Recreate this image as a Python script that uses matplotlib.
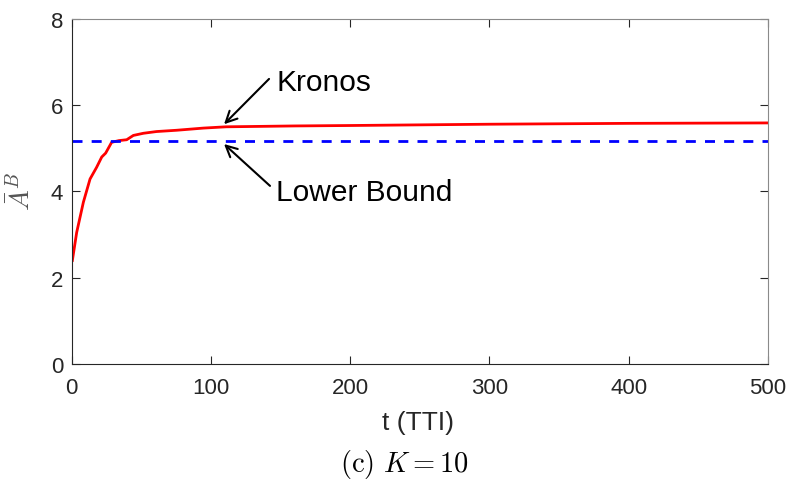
import matplotlib
matplotlib.use("Agg")
import matplotlib.pyplot as plt
import numpy as np

# Data
t_kronos = [0.6, 3.7, 8.5, 13.3, 18, 21.7, 24.5, 28.8, 34, 39.6, 44.4, 51.6, 61, 75.5,
            94.6, 111, 136, 160, 200, 250, 300, 350, 400, 450, 500]
a_kronos = [2.40, 3.05, 3.75, 4.29, 4.56, 4.80, 4.89, 5.14, 5.18, 5.20, 5.30, 5.35, 5.39, 5.42,
            5.47, 5.50, 5.51, 5.52, 5.53, 5.545, 5.56, 5.57, 5.58, 5.585, 5.59]
lower_bound = 5.18
x_ticks = [0, 100, 200, 300, 400, 500]
y_ticks = [0, 2, 4, 6, 8]

plt.rcParams['font.family'] = ['Liberation Sans', 'DejaVu Sans']
plt.rcParams['mathtext.fontset'] = 'cm'

fig = plt.figure(figsize=(7.92, 4.85), dpi=100)
ax = fig.add_axes([0.0903, 0.2474, 0.9697 - 0.0903, 0.9588 - 0.2474])

ax.plot(t_kronos, a_kronos, color='#ff0000', lw=2.0)
ax.plot([0, 500], [lower_bound, lower_bound], color='#0000ff', lw=2.0, dashes=(3.6, 3.3))

ax.set_xlim(0, 500)
ax.set_ylim(0, 8)
ax.set_xticks(x_ticks)
ax.set_yticks(y_ticks)
for s in ['left', 'bottom']:
    ax.spines[s].set_color('#262626')
    ax.spines[s].set_linewidth(0.8)
for s in ['top', 'right']:
    ax.spines[s].set_color('#8a8a8a')
    ax.spines[s].set_linewidth(0.8)
ax.tick_params(direction='in', length=6, width=0.8, colors='#262626', labelsize=16,
               top=True, right=True)
ax.tick_params(axis='x', pad=9)
ax.tick_params(axis='y', pad=6)
for tk in ax.xaxis.get_major_ticks() + ax.yaxis.get_major_ticks():
    tk.tick2line.set_color('#6e6e6e')

ax.set_xlabel('t (TTI)', fontsize=19, color='#262626')
ax.xaxis.set_label_coords((418 - 71.5) / 696.5, (365 - 423) / 345)
ax.xaxis.label.set_va('center')
ax.set_ylabel(r'$\bar{A}^B$', fontsize=20, color='#555555')
ax.yaxis.set_label_coords((21 - 71.5) / 696.5, (365 - 192) / 345)
ax.yaxis.label.set_va('center')

arrow = dict(arrowstyle='->', color='black', lw=1.5, shrinkA=0, shrinkB=0, mutation_scale=20)
ax.annotate('', xy=(109.5, 5.56), xytext=(141.8, 6.61), arrowprops=arrow)
ax.annotate('', xy=(109.5, 5.10), xytext=(142.5, 4.13), arrowprops=arrow)
ax.text(146.8, 6.54, 'Kronos', fontsize=21.5, va='center', ha='left')
ax.text(146.8, 3.99, 'Lower Bound', fontsize=21.5, va='center', ha='left')

fig.text(404.5 / 792, 1 - 465 / 485, r'$\mathrm{(c)}\ K=10$', fontsize=20.5,
         ha='center', va='center')

fig.savefig('out.png', dpi=100)
